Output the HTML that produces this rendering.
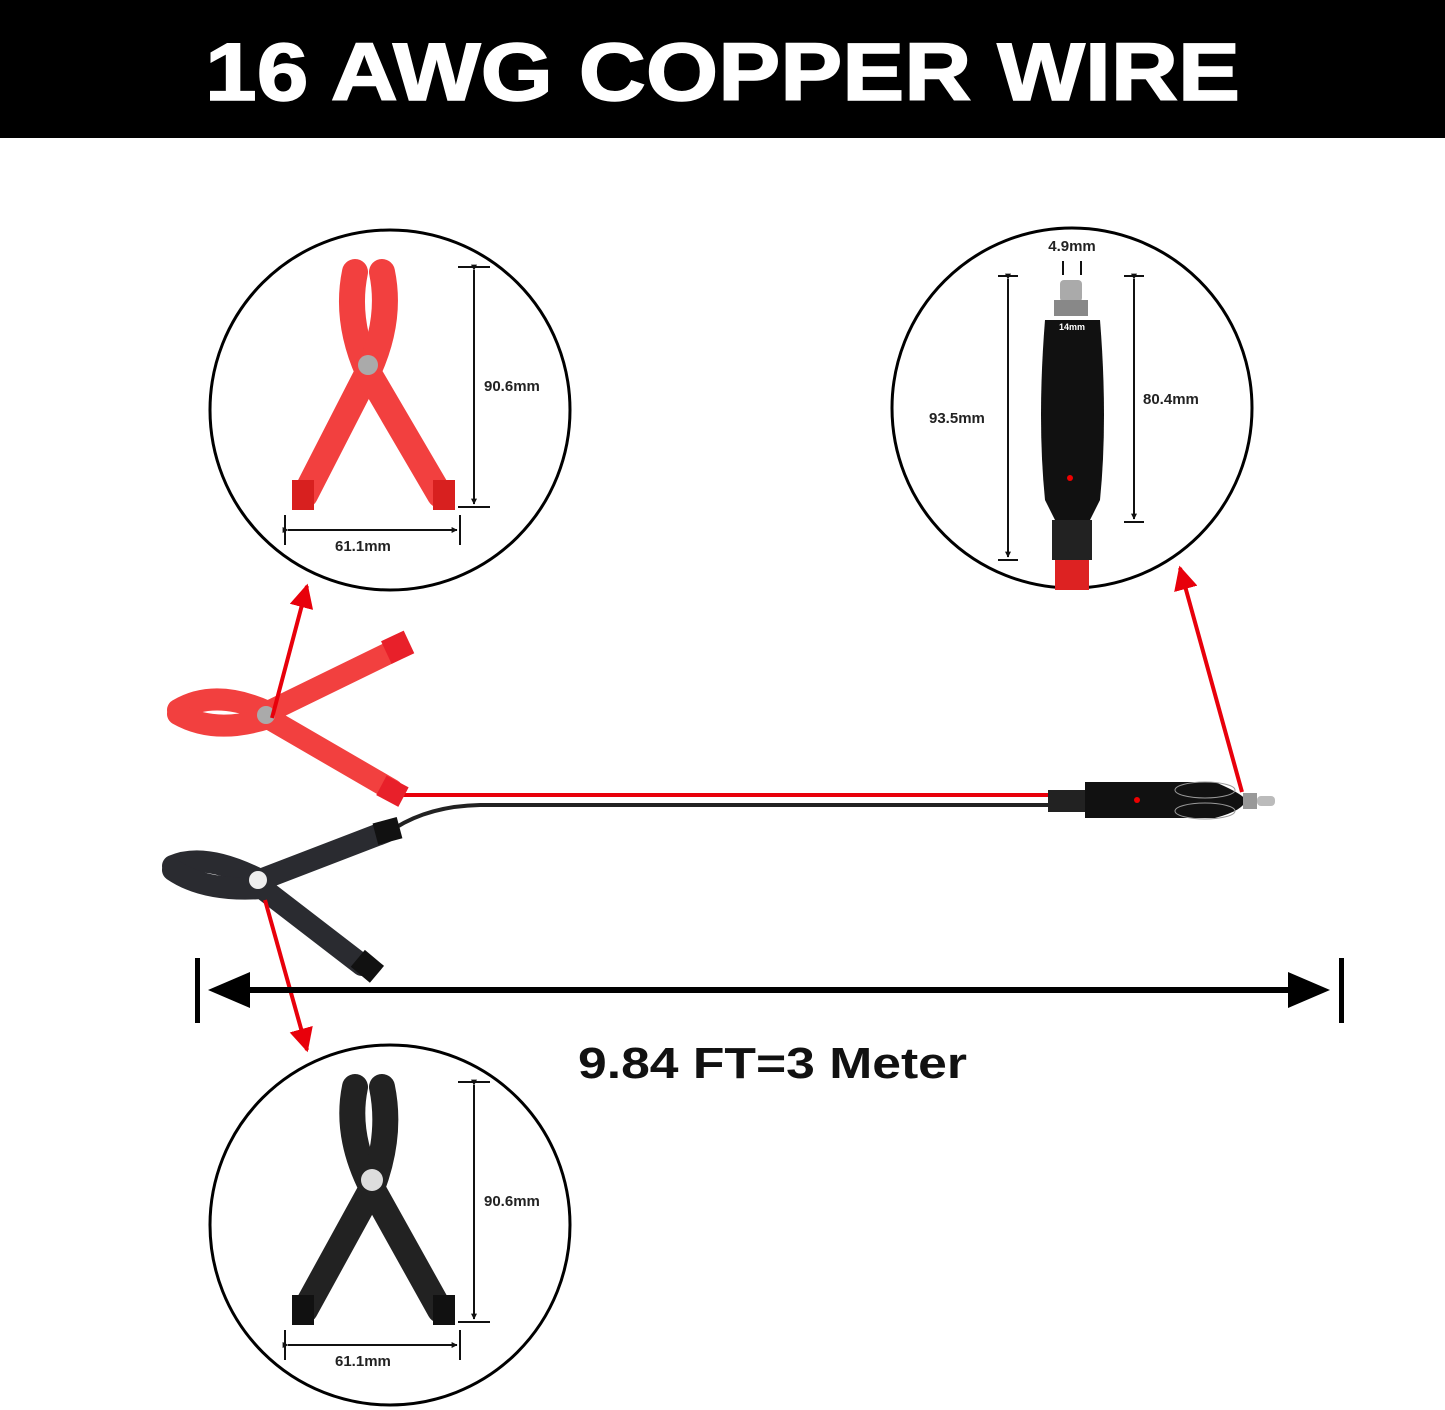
<!DOCTYPE html>
<html><head><meta charset="utf-8"><style>
html,body{margin:0;padding:0;background:#fff}
svg{display:block}
text{font-family:"Liberation Sans",Arial,sans-serif;font-weight:bold}
</style></head><body>
<svg width="1445" height="1410" viewBox="0 0 1445 1410" xmlns="http://www.w3.org/2000/svg">
<defs>
<marker id="ar" viewBox="0 0 10 10" refX="9" refY="5" markerWidth="6" markerHeight="6" orient="auto"><path d="M0,0L10,5L0,10z" fill="#e8000b"/></marker>
<marker id="dk" viewBox="0 0 10 10" refX="9" refY="5" markerWidth="3" markerHeight="3" orient="auto"><path d="M0,0L10,5L0,10z" fill="#111"/></marker>
</defs>
<rect x="0" y="0" width="1445" height="138" fill="#000"/>
<text x="205" y="100" font-size="82" fill="#fff" textLength="1035" lengthAdjust="spacingAndGlyphs" stroke="#fff" stroke-width="1.5">16 AWG COPPER WIRE</text>

<circle cx="390" cy="410" r="180" fill="#fff" stroke="#000" stroke-width="3"/>
<circle cx="1072" cy="408" r="180" fill="#fff" stroke="#000" stroke-width="3"/>
<circle cx="390" cy="1225" r="180" fill="#fff" stroke="#000" stroke-width="3"/>

<g stroke="#f2403f" stroke-linecap="round" fill="none">
<path d="M355,272 Q345,320 368,372 L305,495" stroke-width="26"/>
<path d="M382,272 Q392,320 368,372 L440,495" stroke-width="26"/>
</g>
<rect x="292" y="480" width="22" height="30" fill="#d8201f"/>
<rect x="433" y="480" width="22" height="30" fill="#d8201f"/>
<circle cx="368" cy="365" r="10" fill="#aaa"/>
<g stroke="#222" stroke-linecap="round" fill="none">
<path d="M355,1087 Q345,1135 372,1188 L305,1310" stroke-width="26"/>
<path d="M382,1087 Q392,1135 372,1188 L440,1310" stroke-width="26"/>
</g>
<rect x="292" y="1295" width="22" height="30" fill="#111"/>
<rect x="433" y="1295" width="22" height="30" fill="#111"/>
<circle cx="372" cy="1180" r="11" fill="#ddd"/>

<g stroke="#111" stroke-width="2" fill="none">
<line x1="458" y1="267" x2="490" y2="267"/><line x1="458" y1="507" x2="490" y2="507"/>
<line x1="474" y1="270" x2="474" y2="504" marker-start="url(#dk)" marker-end="url(#dk)"/>
<line x1="285" y1="515" x2="285" y2="545"/><line x1="460" y1="515" x2="460" y2="545"/>
<line x1="288" y1="530" x2="457" y2="530" marker-start="url(#dk)" marker-end="url(#dk)"/>
<line x1="458" y1="1082" x2="490" y2="1082"/><line x1="458" y1="1322" x2="490" y2="1322"/>
<line x1="474" y1="1085" x2="474" y2="1319" marker-start="url(#dk)" marker-end="url(#dk)"/>
<line x1="285" y1="1330" x2="285" y2="1360"/><line x1="460" y1="1330" x2="460" y2="1360"/>
<line x1="288" y1="1345" x2="457" y2="1345" marker-start="url(#dk)" marker-end="url(#dk)"/>
</g>
<g font-size="15" fill="#222">
<text x="484" y="391">90.6mm</text><text x="335" y="551">61.1mm</text>
<text x="484" y="1206">90.6mm</text><text x="335" y="1366">61.1mm</text>
</g>

<rect x="1060" y="280" width="22" height="22" rx="4" fill="#aaa"/>
<rect x="1054" y="300" width="34" height="16" fill="#888"/>
<path d="M1045,320 L1100,320 Q1108,420 1100,500 L1090,520 L1055,520 L1045,500 Q1037,420 1045,320z" fill="#111"/>
<rect x="1052" y="520" width="40" height="40" fill="#222"/>
<rect x="1055" y="560" width="34" height="30" fill="#d22"/>
<circle cx="1070" cy="478" r="3" fill="#e00"/>
<text x="1072" y="330" font-size="9" fill="#fff" text-anchor="middle">14mm</text>
<g stroke="#111" stroke-width="2" fill="none">
<line x1="998" y1="276" x2="1018" y2="276"/><line x1="998" y1="560" x2="1018" y2="560"/>
<line x1="1008" y1="279" x2="1008" y2="557" marker-start="url(#dk)" marker-end="url(#dk)"/>
<line x1="1124" y1="276" x2="1144" y2="276"/><line x1="1124" y1="522" x2="1144" y2="522"/>
<line x1="1134" y1="279" x2="1134" y2="519" marker-start="url(#dk)" marker-end="url(#dk)"/>
<line x1="1063" y1="261" x2="1063" y2="275"/><line x1="1081" y1="261" x2="1081" y2="275"/>
</g>
<g font-size="15" fill="#222">
<text x="1072" y="251" text-anchor="middle">4.9mm</text>
<text x="929" y="423">93.5mm</text><text x="1143" y="404">80.4mm</text>
</g>

<path d="M400,795 L1050,795" stroke="#e8000b" stroke-width="4" fill="none"/>
<path d="M395,828 Q430,806 480,805 L1050,805" stroke="#222" stroke-width="4" fill="none"/>

<g stroke="#f2403f" stroke-linecap="round" stroke-linejoin="round" fill="none" stroke-width="22">
<path d="M178,710 Q215,688 268,712 L395,650"/>
<path d="M178,714 Q215,735 268,718 L392,790"/>
</g>
<rect x="385" y="635" width="25" height="25" fill="#e8202a" transform="rotate(-25 397 647)"/>
<rect x="380" y="780" width="25" height="22" fill="#e8202a" transform="rotate(28 392 791)"/>
<circle cx="266" cy="715" r="9" fill="#aaa"/>
<g stroke="#2a2b30" stroke-linecap="round" stroke-linejoin="round" fill="none" stroke-width="22">
<path d="M173,866 Q205,852 260,880 L385,832"/>
<path d="M173,870 Q205,892 262,888 L362,965"/>
</g>
<rect x="375" y="820" width="25" height="22" fill="#111" transform="rotate(-15 387 831)"/>
<rect x="355" y="955" width="25" height="22" fill="#111" transform="rotate(40 367 966)"/>
<circle cx="258" cy="880" r="9" fill="#eee"/>

<rect x="1048" y="790" width="40" height="22" fill="#222"/>
<path d="M1085,782 L1215,782 Q1245,795 1245,800 Q1245,810 1215,818 L1085,818z" fill="#111"/>
<ellipse cx="1205" cy="790" rx="30" ry="8" fill="none" stroke="#999" stroke-width="1"/>
<ellipse cx="1205" cy="811" rx="30" ry="8" fill="none" stroke="#999" stroke-width="1"/>
<rect x="1243" y="793" width="14" height="16" fill="#999"/>
<rect x="1257" y="796" width="18" height="10" rx="4" fill="#bbb"/>
<circle cx="1137" cy="800" r="3" fill="#e00"/>

<g stroke="#e8000b" stroke-width="4" fill="none">
<line x1="272" y1="718" x2="307" y2="586" marker-end="url(#ar)"/>
<line x1="1242" y1="792" x2="1180" y2="568" marker-end="url(#ar)"/>
<line x1="265" y1="900" x2="307" y2="1050" marker-end="url(#ar)"/>
</g>

<rect x="195" y="958" width="5" height="65" fill="#000"/>
<rect x="1339" y="958" width="5" height="65" fill="#000"/>
<rect x="240" y="987" width="1060" height="6" fill="#000"/>
<path d="M208,990 L250,972 L250,1008z" fill="#000"/>
<path d="M1330,990 L1288,972 L1288,1008z" fill="#000"/>
<text x="578" y="1078" font-size="44" fill="#111" textLength="389" lengthAdjust="spacingAndGlyphs">9.84 FT=3 Meter</text>
</svg>
</body></html>
